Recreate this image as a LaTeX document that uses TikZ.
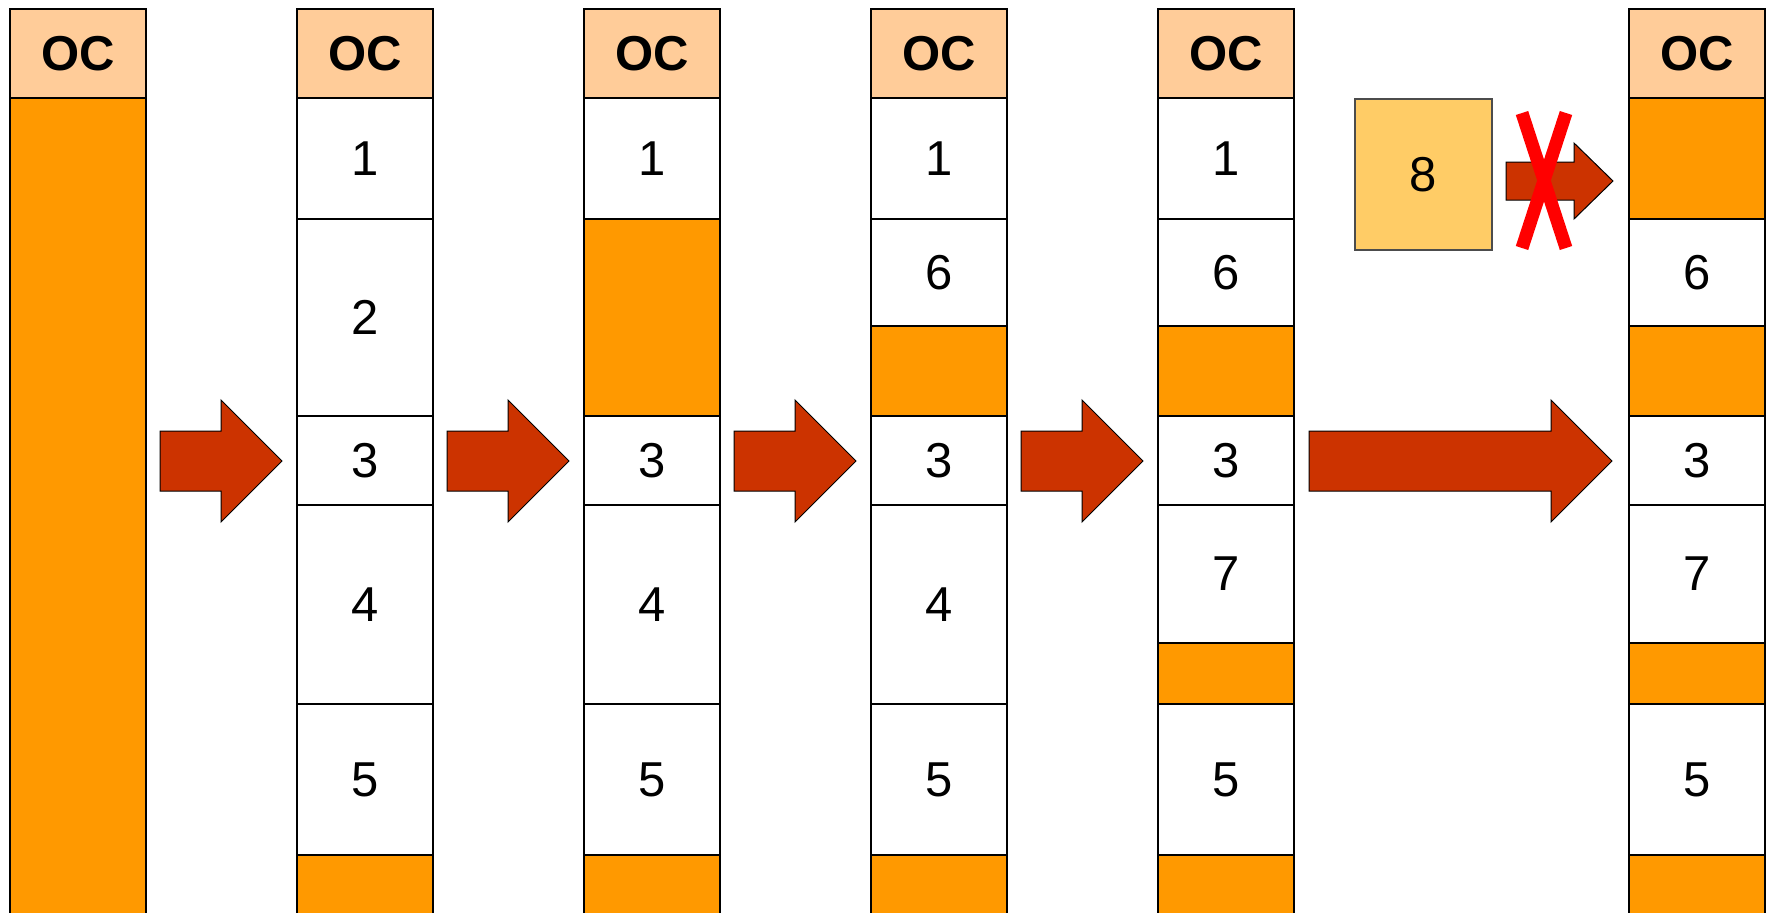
\documentclass[tikz,border=0pt]{standalone}
\usepackage{fontspec}
\setmainfont{Liberation Sans}
\usepackage{xcolor}
\usepackage{tikz}

\definecolor{ochead}{HTML}{FFCC99}
\definecolor{ocfree}{HTML}{FF9900}
\definecolor{arrowred}{HTML}{CC3300}
\definecolor{newblk}{HTML}{FFCC66}

\newcommand{\cellfont}{\fontsize{24.5}{29}\selectfont}
% one cell of a column: name, left, top, bottom, style, text
\newcommand{\cell}[6]{%
	\node[#5, minimum height={(#4-#3)*0.5pt}, anchor=north west] (#1) at (#2,#3) {#6};}
% block arrow: left, right, centre, shaft half height, head half height, head length
\newcommand{\blockarrow}[6]{%
	\draw[bigarrow] (#1,#3-#4) -- (#2-#6,#3-#4) -- (#2-#6,#3-#5) -- (#2,#3)
		-- (#2-#6,#3+#5) -- (#2-#6,#3+#4) -- (#1,#3+#4) -- cycle;}

\tikzset{
	cell/.style={draw, line width=1pt, minimum width=68pt, inner sep=0pt, font=\cellfont},
	head/.style={cell, fill=ochead, font=\cellfont\bfseries},
	free/.style={cell, fill=ocfree},
	used/.style={cell, fill=white},
	bigarrow/.style={draw, line width=0.5pt, fill=arrowred},
	crossout/.style={red, line width=6.5pt},
}

\begin{document}
\begin{tikzpicture}[x=0.5pt, y=-0.5pt]
	\useasboundingbox (0,0) rectangle (1769,912);
	\clip (0,0) rectangle (1769,912);

	% headers
	\foreach \c/\x in {1/9, 2/296, 3/583, 4/870, 5/1157, 6/1628}{
		\cell{c\c h}{\x}{8}{97}{head}{OC}
	}

	% column 1
	\cell{c1a}{9}{97}{940}{free}{}

	% column 2
	\cell{c2a}{296}{97}{218}{used}{1}
	\cell{c2b}{296}{218}{415}{used}{2}
	\cell{c2c}{296}{415}{504}{used}{3}
	\cell{c2d}{296}{504}{703}{used}{4}
	\cell{c2e}{296}{703}{854}{used}{5}
	\cell{c2f}{296}{854}{940}{free}{}

	% column 3
	\cell{c3a}{583}{97}{218}{used}{1}
	\cell{c3b}{583}{218}{415}{free}{}
	\cell{c3c}{583}{415}{504}{used}{3}
	\cell{c3d}{583}{504}{703}{used}{4}
	\cell{c3e}{583}{703}{854}{used}{5}
	\cell{c3f}{583}{854}{940}{free}{}

	% column 4
	\cell{c4a}{870}{97}{218}{used}{1}
	\cell{c4b}{870}{218}{325}{used}{6}
	\cell{c4g}{870}{325}{415}{free}{}
	\cell{c4c}{870}{415}{504}{used}{3}
	\cell{c4d}{870}{504}{703}{used}{4}
	\cell{c4e}{870}{703}{854}{used}{5}
	\cell{c4f}{870}{854}{940}{free}{}

	% column 5
	\cell{c5a}{1157}{97}{218}{used}{1}
	\cell{c5b}{1157}{218}{325}{used}{6}
	\cell{c5g}{1157}{325}{415}{free}{}
	\cell{c5c}{1157}{415}{504}{used}{3}
	\cell{c5d}{1157}{504}{642}{used}{7}
	\cell{c5h}{1157}{642}{703}{free}{}
	\cell{c5e}{1157}{703}{854}{used}{5}
	\cell{c5f}{1157}{854}{940}{free}{}

	% column 6
	\cell{c6a}{1628}{97}{218}{free}{}
	\cell{c6b}{1628}{218}{325}{used}{6}
	\cell{c6g}{1628}{325}{415}{free}{}
	\cell{c6c}{1628}{415}{504}{used}{3}
	\cell{c6d}{1628}{504}{642}{used}{7}
	\cell{c6h}{1628}{642}{703}{free}{}
	\cell{c6e}{1628}{703}{854}{used}{5}
	\cell{c6f}{1628}{854}{940}{free}{}

	% steps
	\foreach \x in {160, 447, 734, 1021}{
		\blockarrow{\x}{\x+122}{461}{30}{61}{61}
	}
	\blockarrow{1309}{1612}{461}{30}{61}{61}

	% block 8 does not fit
	\node[draw=black!70, line width=0.8pt, fill=newblk, minimum width=68.5pt, minimum height=75.5pt,
		inner sep=0pt, font=\cellfont, anchor=north west] (blk8) at (1354,98) {8};
	\blockarrow{1506}{1613}{181}{19}{38}{39}
	\draw[crossout] (1522,113) -- (1566,248);
	\draw[crossout] (1566,113) -- (1522,248);
\end{tikzpicture}
\end{document}
